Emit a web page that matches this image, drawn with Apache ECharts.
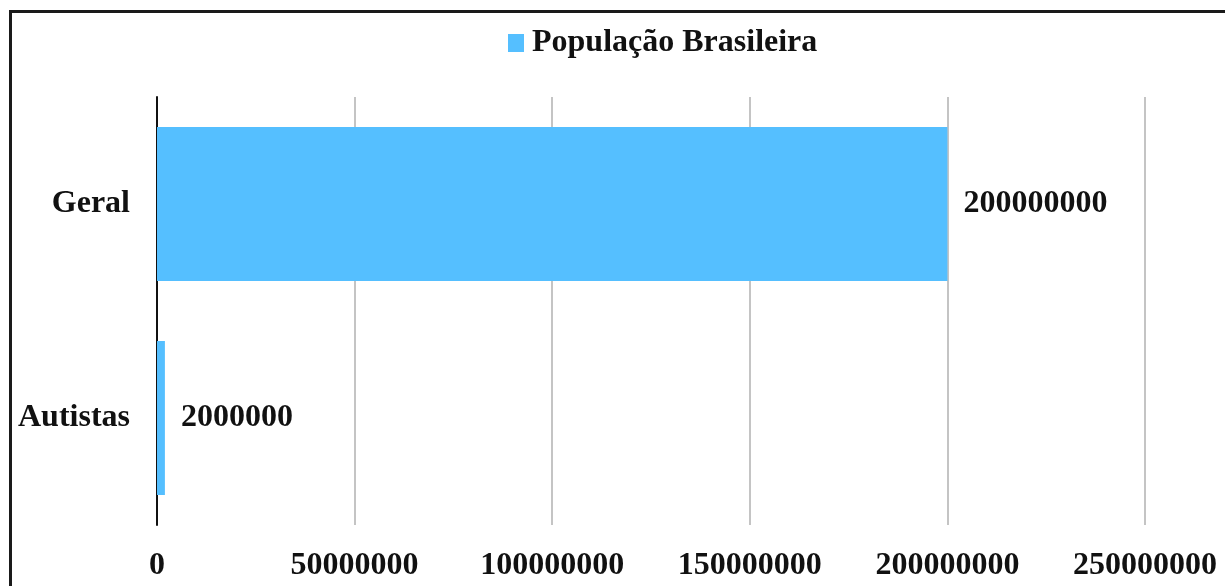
<!DOCTYPE html>
<html>
<head>
<meta charset="utf-8">
<style>
  html, body { margin: 0; padding: 0; background: #ffffff; }
  #chart { width: 1225px; height: 586px; }
</style>
<script src="https://cdn.jsdelivr.net/npm/echarts@6/dist/echarts.min.js"></script>
</head>
<body>
<div id="chart"></div>
<script>
// Categories (top to bottom) and population values
const categories = ['Geral', 'Autistas'];
const populacao = [200000000, 2000000];
const seriesName = 'População Brasileira';

// Value axis range
const axisMin = 0;
const axisMax = 250000000;
const axisStep = 50000000;

const FONT = '"Liberation Serif", "Times New Roman", serif';
const BAR_COLOR = '#55BFFF';

const chart = echarts.init(document.getElementById('chart'));

chart.setOption({
  backgroundColor: '#ffffff',
  animation: false,
  graphic: [
    // frame lines at the top and left edge
    { type: 'line', shape: { x1: 10.5, y1: 11.5, x2: 1225, y2: 11.5 }, style: { stroke: '#1a1a1a', lineWidth: 3 } },
    { type: 'line', shape: { x1: 10.5, y1: 10, x2: 10.5, y2: 586 }, style: { stroke: '#1a1a1a', lineWidth: 3 } }
  ],
  legend: {
    data: [seriesName],
    left: 503,
    top: 22,
    icon: 'rect',
    itemWidth: 16,
    itemHeight: 18,
    textStyle: {
      fontFamily: FONT,
      fontWeight: 'bold',
      fontSize: 32,
      color: '#111111',
      padding: [0, 0, 0, 3]
    }
  },
  grid: {
    left: 157,
    right: 80,
    top: 97,
    bottom: 61,
    containLabel: false,
    outerBoundsMode: 'none'
  },
  xAxis: {
    type: 'value',
    min: axisMin,
    max: axisMax,
    interval: axisStep,
    axisLine: { show: false },
    axisTick: { show: false },
    splitLine: { show: true, lineStyle: { color: '#c4c4c4', width: 2 } },
    axisLabel: {
      fontFamily: FONT,
      fontWeight: 'bold',
      fontSize: 32,
      color: '#111111',
      margin: 25,
      formatter: (v) => String(v)
    }
  },
  yAxis: {
    type: 'category',
    data: categories,
    inverse: true,
    axisLine: { show: true, lineStyle: { color: '#111111', width: 2 } },
    axisTick: { show: false },
    splitLine: { show: false },
    axisLabel: {
      fontFamily: FONT,
      fontWeight: 'bold',
      fontSize: 32,
      color: '#111111',
      margin: 27
    }
  },
  series: [{
    name: seriesName,
    type: 'bar',
    data: populacao,
    barCategoryGap: '28%',
    itemStyle: { color: BAR_COLOR },
    label: {
      show: true,
      position: 'right',
      distance: 16,
      fontFamily: FONT,
      fontWeight: 'bold',
      fontSize: 32,
      color: '#111111'
    },
    z: 3
  }]
});
</script>
</body>
</html>
